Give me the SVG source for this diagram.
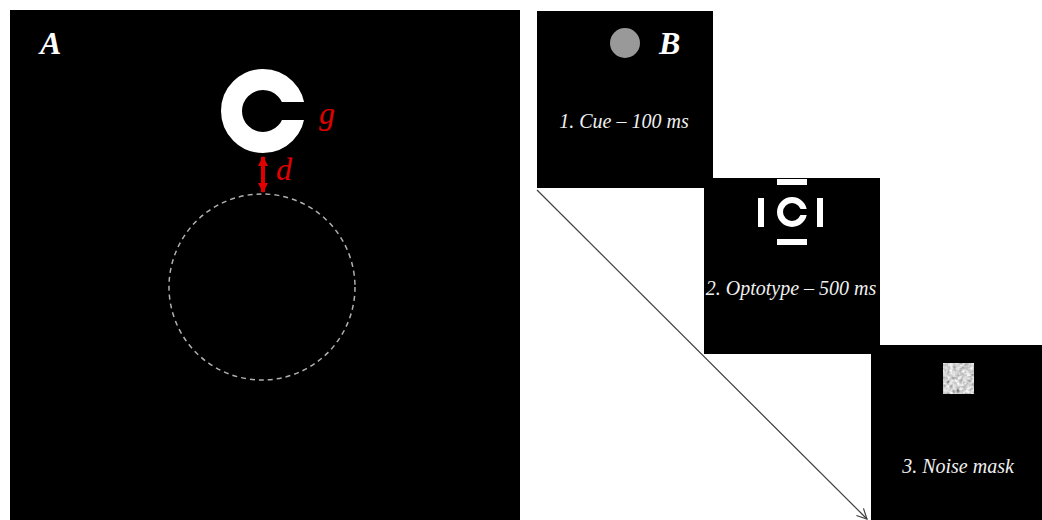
<svg xmlns="http://www.w3.org/2000/svg" width="1042" height="520" viewBox="0 0 1042 520">
  <style>
    .panel { fill: #000; }
    .label { font-family: "Liberation Serif", serif; font-style: italic; font-weight: bold; font-size: 32px; fill: #fff; }
    .red { font-family: "Liberation Serif", serif; font-style: italic; font-size: 32px; fill: #e00000; }
    .cap { font-family: "Liberation Serif", serif; font-style: italic; font-size: 20px; fill: #f0f0f0; text-anchor: middle; }
    .conn { stroke: #404040; stroke-width: 1.2; fill: none; }
  </style>
  <defs>
    <marker id="openArrow" viewBox="0 0 12 12" refX="11" refY="6" markerWidth="12" markerHeight="12" markerUnits="userSpaceOnUse" orient="auto">
      <path d="M1,1 L11,6 L1,11" fill="none" stroke="#404040" stroke-width="1.2"/>
    </marker>
    <marker id="redHead" viewBox="0 0 10 10" refX="9" refY="5" markerWidth="2.6" markerHeight="2.6" orient="auto-start-reverse">
      <path d="M0,0 L10,5 L0,10 Z" fill="#e00000"/>
    </marker>
    <filter id="noise" x="943" y="363" width="31" height="31" filterUnits="userSpaceOnUse">
      <feTurbulence type="fractalNoise" baseFrequency="0.3" numOctaves="2" seed="4"/>
      <feColorMatrix type="matrix" values="0.6 0.6 0.6 0 -0.25  0.6 0.6 0.6 0 -0.25  0.6 0.6 0.6 0 -0.25  0 0 0 0 1"/>
    </filter>
    <mask id="bigGap" maskUnits="userSpaceOnUse" x="200" y="50" width="130" height="130">
      <rect x="200" y="50" width="130" height="130" fill="#fff"/>
      <rect x="263" y="102" width="60" height="18" fill="#000"/>
    </mask>
    <mask id="smallGap" maskUnits="userSpaceOnUse" x="770" y="190" width="50" height="50">
      <rect x="770" y="190" width="50" height="50" fill="#fff"/>
      <rect x="792" y="209" width="20" height="6" fill="#000"/>
    </mask>
  </defs>

  <!-- Panel A: stimulus geometry -->
  <g id="panelA">
    <rect class="panel" x="10" y="10" width="510" height="510"/>
    <text class="label" x="40" y="54">A</text>
    <circle cx="263" cy="111" r="31.5" fill="none" stroke="#fff" stroke-width="21" mask="url(#bigGap)"/>
    <text class="red" x="319" y="124">g</text>
    <line x1="263" y1="157" x2="263" y2="192" stroke="#e00000" stroke-width="4" marker-start="url(#redHead)" marker-end="url(#redHead)"/>
    <text class="red" x="276" y="180">d</text>
    <circle cx="262" cy="287" r="93" fill="none" stroke="#b0b0b0" stroke-width="1.5" stroke-dasharray="5 4"/>
  </g>

  <!-- Panel B: trial sequence -->
  <g id="cue">
    <rect class="panel" x="537" y="11" width="176" height="177"/>
    <circle cx="625" cy="43" r="15" fill="#999"/>
    <text class="label" x="659" y="54">B</text>
    <text class="cap" x="624" y="128">1. Cue – 100 ms</text>
  </g>

  <g id="optotype">
    <rect class="panel" x="704" y="178" width="176" height="176"/>
    <rect x="777" y="179" width="30" height="6" fill="#fff"/>
    <rect x="777" y="239" width="30" height="6" fill="#fff"/>
    <rect x="758" y="198" width="6" height="29" fill="#fff"/>
    <rect x="817" y="198" width="6" height="29" fill="#fff"/>
    <circle cx="792" cy="212" r="12" fill="none" stroke="#fff" stroke-width="6" mask="url(#smallGap)"/>
    <text class="cap" x="791" y="295">2. Optotype – 500 ms</text>
  </g>

  <g id="mask">
    <rect class="panel" x="871" y="345" width="171" height="175"/>
    <rect x="943" y="363" width="31" height="31" fill="#888" filter="url(#noise)"/>
    <text class="cap" x="958" y="473">3. Noise mask</text>
  </g>

  <g id="connectors">
    <line class="conn" x1="537" y1="190" x2="867" y2="519" marker-end="url(#openArrow)"/>
  </g>
</svg>
